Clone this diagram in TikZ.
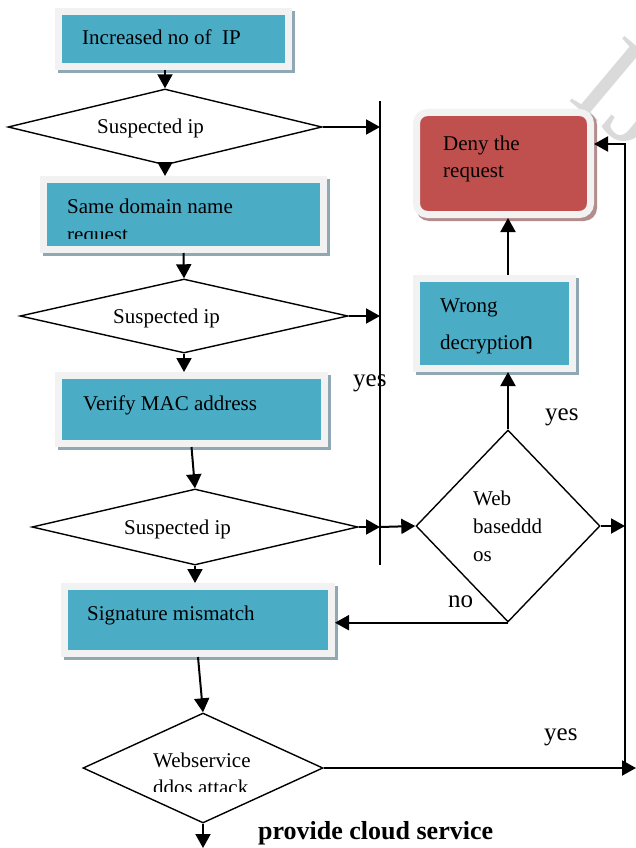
\documentclass[tikz,border=0pt]{standalone}
\usepackage{fontspec}
\setmainfont{Liberation Serif}
\newfontfamily\sansfam{Liberation Sans}
\usetikzlibrary{arrows.meta,shapes.geometric,fit}
\definecolor{tealc}{HTML}{4BACC6}
\definecolor{framec}{HTML}{F2F2F2}
\definecolor{shadowc}{HTML}{8FA8B3}
\definecolor{redc}{HTML}{C0504D}
\definecolor{redshadow}{HTML}{B38C8C}
\definecolor{wmfill}{HTML}{DADADA}
\definecolor{wmline}{HTML}{BDBDBD}
\tikzset{
  tbox/.style={fill=tealc, draw=framec, line width=7pt, inner sep=0pt},
  rbox/.style={fill=redc, draw=framec, line width=7pt, inner sep=0pt, rounded corners=11pt},
  dia/.style={diamond, draw=black, line width=1.4pt, inner sep=0pt, fill=white},
  arr/.style={line width=2pt, -{Triangle[length=14pt,width=15pt]}},
  plain/.style={line width=2pt},
  txt/.style={inner sep=0pt, anchor=base west, font=\fontsize{21}{28}\selectfont},
  lbl/.style={inner sep=0pt, anchor=base west, font=\fontsize{25}{30}\selectfont},
}
\newcommand\tealbox[5]{%
  \fill[shadowc] (#2+3,#3+3) rectangle (#4+3,#5+3);
  \node[tbox, fit={(#2+3.5,#3+3.5) (#4-3.5,#5-3.5)}] (#1) {};}
\begin{document}
\begin{tikzpicture}[x=1pt,y=-1pt]
\useasboundingbox (0,0) rectangle (636,848);
\begin{scope}
\clip (0,0) rectangle (636,848);
\node[rotate=-40, text=wmfill, anchor=base west, font=\fontsize{130}{130}\selectfont, inner sep=0pt] (wm) at (566,98) {IJERT};
\end{scope}

% boxes
\tealbox{b1}{55}{8}{292}{70}
\tealbox{b2}{40}{176}{327}{253}
\tealbox{b3}{55}{372}{328}{447}
\tealbox{wr}{413}{275}{576}{372}
\tealbox{sig}{61}{583}{335}{657}
\fill[redshadow, rounded corners=13pt] (416,112) rectangle (597,221);
\node[rbox, fit={(416.5,112.5) (590.5,214.5)}] (deny) {};

% diamonds
\node[dia, minimum width=314pt, minimum height=76pt] (d1) at (165,127) {};
\node[dia, minimum width=328pt, minimum height=74pt] (d2) at (184,316) {};
\node[dia, minimum width=326pt, minimum height=76pt] (d3) at (195,527) {};
\node[dia, minimum width=184pt, minimum height=192pt] (web) at (508,526) {};
\node[dia, minimum width=240pt, minimum height=110pt] (ws) at (203,768) {};

% texts
\node[txt] (t1) at (82,45) {Increased no of\ \ IP};
\node[txt] (t2) at (97,134) {Suspected ip};
\begin{scope}
\clip (44,180) rectangle (323,238);
\node[txt] (t3) at (67,213) {Same domain name};
\node[txt] (t4) at (67,241) {request};
\end{scope}
\node[txt] (t5) at (113,323) {Suspected ip};
\node[txt] (t6) at (83,410) {Verify MAC address};
\node[txt] (t7) at (124,534) {Suspected ip};
\node[txt] (t8) at (87,620) {Signature mismatch};
\node[txt] (t9) at (153,767) {Webservice};
\begin{scope}
\clip (100,775) rectangle (300,791);
\node[txt] (t10) at (153,794) {ddos attack};
\end{scope}
\node[txt] (t11) at (473,505) {Web};
\node[txt] (t12) at (473,533) {baseddd};
\node[txt] (t13) at (473,561) {os};
\node[txt] (t14) at (440,312) {Wrong};
\node[txt] (t15) at (440,349) {decryptio{\sansfam\fontsize{24}{28}\selectfont n}};
\node[txt] (t16) at (443,150) {Deny the};
\node[txt] (t17) at (443,177) {request};
\node[lbl] (y1) at (353,386) {yes};
\node[lbl] (y2) at (545,420) {yes};
\node[lbl] (n1) at (448,607) {no};
\node[lbl] (y3) at (544,740) {yes};
\node[inner sep=0pt, anchor=base west, font=\fontsize{26}{30}\selectfont\bfseries] (pc) at (258,839) {provide cloud service};

% coordinates
\coordinate (v1top) at (380,101);
\coordinate (v1bot) at (380,565);
\coordinate (v2top) at (625,144);
\coordinate (v2bot) at (625,768);
\coordinate (rend) at (636,768);
\coordinate (bend) at (203,848);

% connectors
\draw[plain] (v1top) -- (v1bot);
\draw[arr] (b1.south -| d1.north) -- (d1.north);
\draw[arr] (d1.south) -- (d1.south |- b2.north);
\draw[arr] (b2.south) -- (d2.north);
\draw[arr] (d2.south) -- (d2.south |- b3.north);
\draw[arr] (b3.south) -- (d3.north);
\draw[arr] (d3.south) -- (d3.south |- sig.north);
\draw[arr] (sig.south) -- (ws.north);
\draw[arr] (ws.south) -- (bend);
\draw[arr] (d1.east) -- (d1.east -| v1top);
\draw[arr] (d2.east) -- (d2.east -| v1top);
\draw[arr] (d3.east) -- (d3.east -| v1top);
\draw[arr] (d3.east -| v1top) -- (web.west);
\draw[arr] (web.east) -- (web.east -| v2top);
\draw[arr] (web.north) -- (web.north |- wr.south);
\draw[arr] (wr.north -| web.north) -- (deny.south -| web.north);
\draw[arr] (web.south) -- (web.south -| sig.east);
\draw[arr] (ws.east) -- (rend);
\draw[arr] (v2bot) -- (v2top) -- (v2top -| deny.east);
\end{tikzpicture}
\end{document}
